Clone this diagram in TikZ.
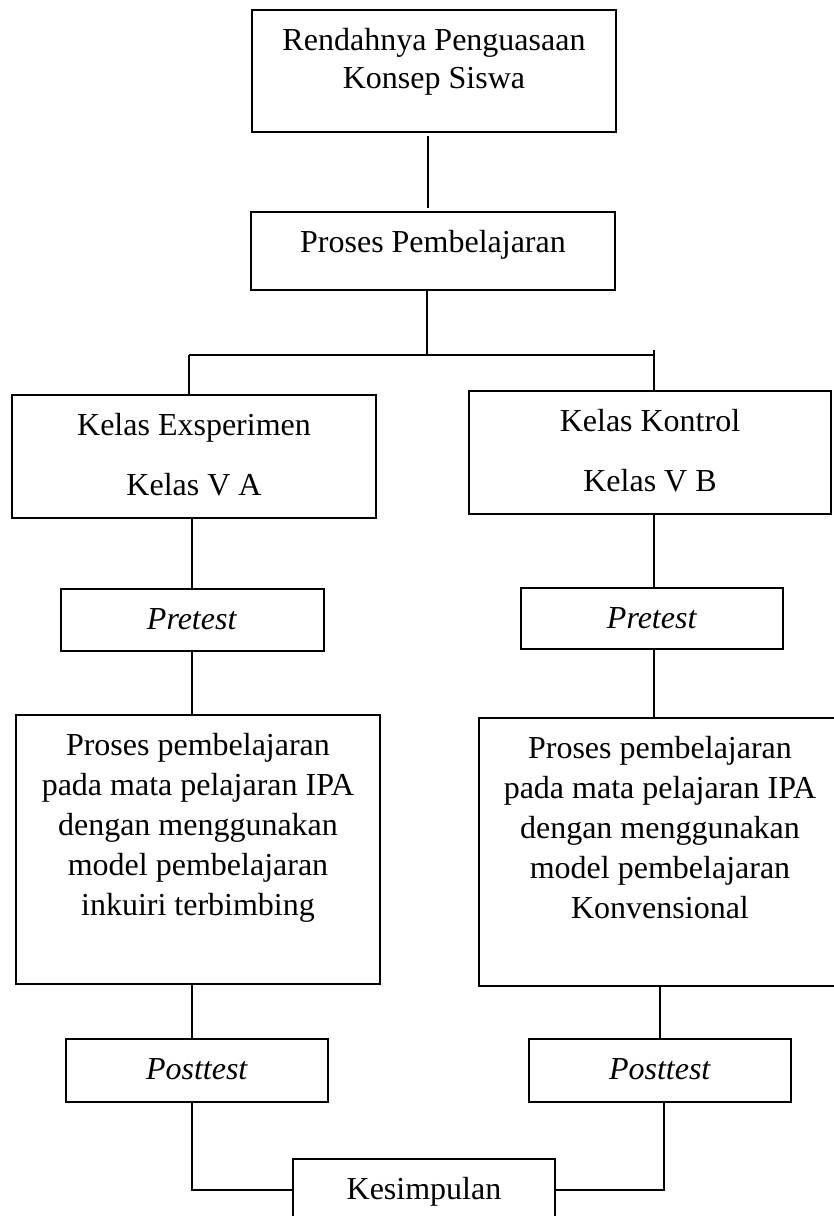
\documentclass[tikz,border=0pt]{standalone}
\usepackage{fontspec}
\setmainfont{Liberation Serif}

\begin{document}
\begin{tikzpicture}
	[x=1pt, y=-1pt, line width=2pt,
	every node/.style={draw,anchor=north,align=flush center,inner sep=0pt,
		text height=40pt,font=\fontsize{32}{38}\selectfont}]
	\useasboundingbox (0,0) rectangle (833,1216);
	\node (masalah) [text width=364,text depth=82] at (434,9) {Rendahnya Penguasaan\\Konsep Siswa};
	\node (proses) [text width=364,text depth=38] at (433,211) {Proses Pembelajaran};
	\node (kelasA) [text width=364,text depth=83,font=\fontsize{32}{60}\selectfont] at (194,394) {Kelas Exsperimen\\Kelas V A};
	\node (kelasB) [text width=362,text depth=83,font=\fontsize{32}{60}\selectfont] at (650,390) {Kelas Kontrol\\Kelas V B};
	\node (preA) [text width=263,text depth=22] at (192,588) {\textit{Pretest}};
	\node (preB) [text width=262,text depth=21] at (652,587) {\textit{Pretest}};
	\node (ipaA) [text width=364,text depth=229,font=\fontsize{32}{40}\selectfont] at (198,714)
		{Proses pembelajaran\\pada mata pelajaran IPA\\dengan menggunakan\\model pembelajaran\\inkuiri terbimbing};
	\node (ipaB) [text width=362,text depth=228,font=\fontsize{32}{40}\selectfont] at (660,717)
		{Proses pembelajaran\\pada mata pelajaran IPA\\dengan menggunakan\\model pembelajaran\\Konvensional};
	\node (postA) [text width=262,text depth=23] at (197,1038) {\textit{Posttest}};
	\node (postB) [text width=262,text depth=23] at (660,1038) {\textit{Posttest}};
	\node (simpul) [text width=262,text depth=22] at (424,1158) {Kesimpulan};
	\coordinate (cabang) at (427,355);
	\coordinate (cabangA) at (189,355);
	\coordinate (cabangB) at (654,350);
	\draw [shorten <=3pt,shorten >=3pt] ([xshift=-6pt]masalah.south) -- ([xshift=-6pt]masalah.south |- proses.north);
	\draw (cabang |- proses.south) -- (cabang);
	\draw [line width=2.6pt] (cabangA) -- (cabangB |- cabang);
	\draw (cabangA) -- (cabangA |- kelasA.north);
	\draw (cabangB) -- (cabangB |- kelasB.north);
	\draw (kelasA.south -| preA) -- (preA.north);
	\draw (preA.south) -- (preA.south |- ipaA.north);
	\draw (ipaA.south -| preA) -- (postA.north -| preA);
	\draw (postA.south -| preA) |- (simpul.west);
	\draw (kelasB.south -| cabangB) -- (preB.north -| cabangB);
	\draw (preB.south -| cabangB) -- (ipaB.north -| cabangB);
	\draw (ipaB.south -| postB) -- (postB.north);
	\draw ([xshift=4pt]postB.south) |- (simpul.east);
\end{tikzpicture}
\end{document}
